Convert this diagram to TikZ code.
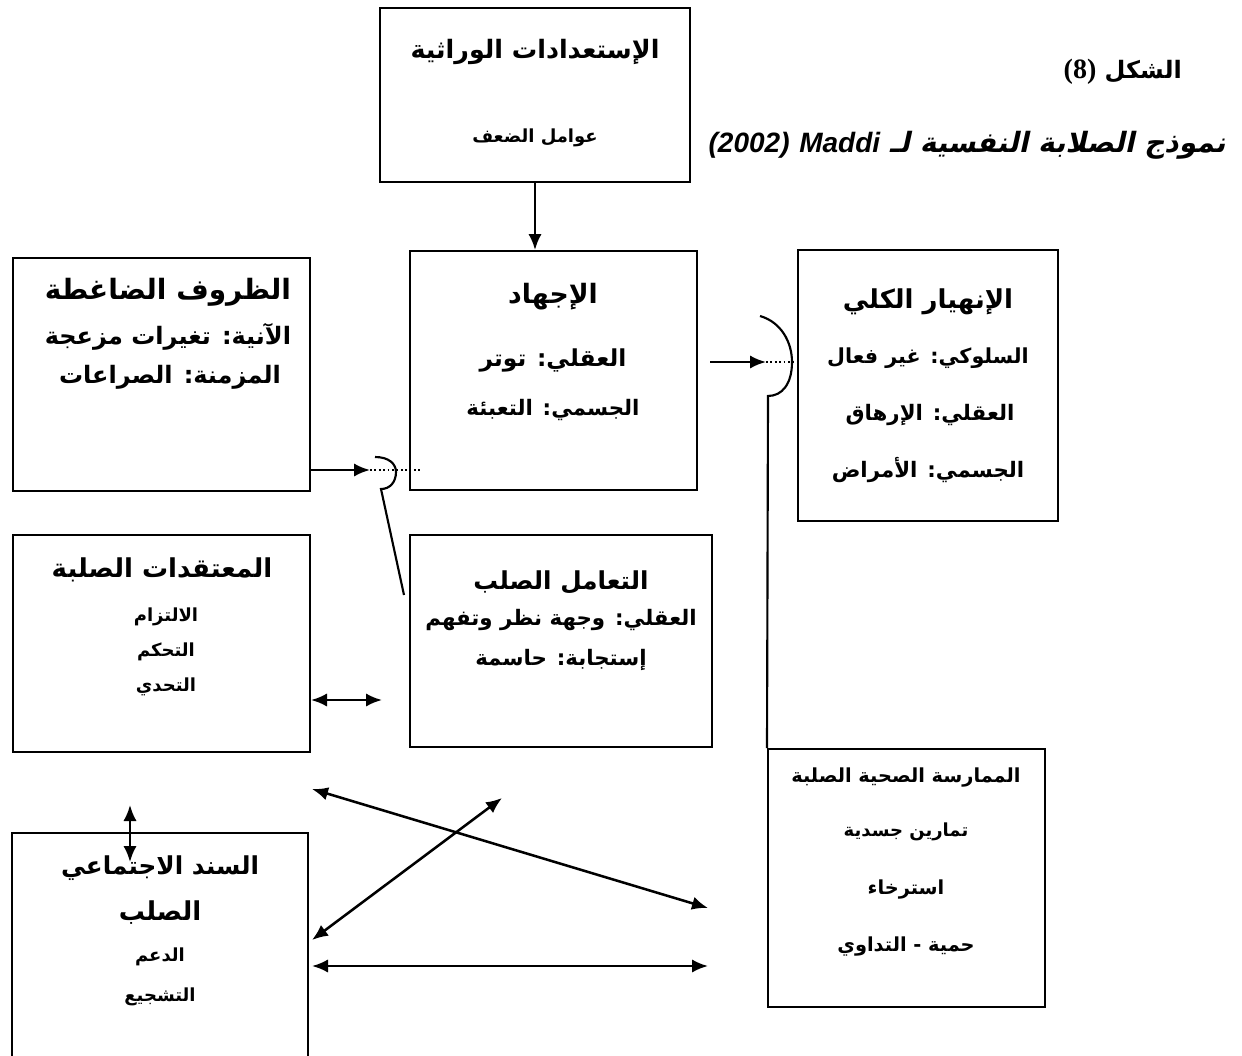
\documentclass[tikz,border=0pt]{standalone}
\usepackage{fontspec}
\usetikzlibrary{arrows.meta,fit}
\TeXXeTstate=1
\newfontfamily\arfont[Script=Arabic]{DejaVu Sans}
\newfontfamily\arslant[Script=Arabic,FakeSlant=0.22]{DejaVu Sans Bold}
\newfontfamily\latsans{Liberation Sans}
\newfontfamily\latserif{Liberation Serif}
% bold Arabic text at a given size
\newcommand\arsz[1]{\arfont\bfseries\fontsize{#1}{#1}\selectfont}

\begin{document}
\begin{tikzpicture}[x=0.75pt,y=-0.75pt,
  box/.style={draw, line width=1.5pt, rectangle, inner sep=0pt},
  lbl/.style={inner sep=0pt},
  big/.style={lbl, font=\arsz{19.5}},
  mid/.style={lbl, font=\arsz{16}},
  small/.style={lbl, font=\arsz{13.5}},
  arr/.style={-{Latex[length=12pt,width=10pt]}, line width=1.9pt},
  darr/.style={{Latex[length=12pt,width=10pt]}-{Latex[length=12pt,width=10pt]}, line width=1.9pt},
  dots/.style={line width=1.9pt, dash pattern=on 1.4pt off 1.9pt},
  link/.style={line width=1.6pt}]

\useasboundingbox (0,0) rectangle (1242,1056);

% ---- boxes ----
\node[box, fit={(380,8) (690,182)}]    (genes)    {};
\node[box, fit={(410,251) (697,490)}]  (strain)   {};
\node[box, fit={(13,258) (310,491)}]   (stressors){};
\node[box, fit={(798,250) (1058,521)}] (collapse) {};
\node[box, fit={(13,535) (310,752)}]   (beliefs)  {};
\node[box, fit={(410,535) (712,747)}]  (coping)   {};
\node[box, fit={(768,749) (1045,1007)}](health)   {};
\node[box, fit={(12,833) (308,1090)}]  (support)  {};

% ---- heading ----
\node[lbl, anchor=east, font=\arsz{18}] (figno) at (1182,72)
  {\beginR الشكل \beginL{\latserif\bfseries\fontsize{21}{21}\selectfont(8)}\endL\endR};
\node[lbl, anchor=east, font=\arslant\fontsize{21}{21}\selectfont] (title) at (1226,145)
  {\beginR نموذج الصلابة النفسية لـ \beginL{\latsans\bfseries\itshape Maddi}\endL{} \beginL{\latsans\bfseries\itshape (2002)}\endL\endR};

% ---- box texts ----
\node[big, font=\arsz{19}]   (g1) at (535,52)  {\beginR الإستعدادات الوراثية\endR};
\node[small]                 (g2) at (535,138) {\beginR عوامل الضعف\endR};

\node[big, font=\arsz{20}]   (s1) at (553,297) {\beginR الإجهاد\endR};
\node[mid, font=\arsz{17.5}] (s2) at (553,360) {\beginR العقلي: توتر\endR};
\node[mid]                   (s3) at (553,410) {\beginR الجسمي: التعبئة\endR};

\node[big, font=\arsz{21}]   (p1) at (168,292) {\beginR الظروف الضاغطة\endR};
\node[mid, font=\arsz{18}]   (p2) at (168,337) {\beginR الآنية: تغيرات مزعجة\endR};
\node[mid, font=\arsz{18}]   (p3) at (170,377) {\beginR المزمنة: الصراعات\endR};

\node[big]                   (c1) at (928,302) {\beginR الإنهيار الكلي\endR};
\node[mid, font=\arsz{15.5}] (c2) at (928,358) {\beginR السلوكي: غير فعال\endR};
\node[mid]                   (c3) at (930,415) {\beginR العقلي: الإرهاق\endR};
\node[mid]                   (c4) at (928,470) {\beginR الجسمي: الأمراض\endR};

\node[big]                   (b1) at (162,570) {\beginR المعتقدات الصلبة\endR};
\node[small]                 (b2) at (166,617) {\beginR الالتزام\endR};
\node[small]                 (b3) at (166,652) {\beginR التحكم\endR};
\node[small]                 (b4) at (166,687) {\beginR التحدي\endR};

\node[big, font=\arsz{18.5}] (k1) at (561,582) {\beginR التعامل الصلب\endR};
\node[mid]                   (k2) at (561,620) {\beginR العقلي: وجهة نظر وتفهم\endR};
\node[mid]                   (k3) at (561,660) {\beginR إستجابة: حاسمة\endR};

\node[mid, font=\arsz{14.5}] (h1) at (906,778) {\beginR الممارسة الصحية الصلبة\endR};
\node[mid, font=\arsz{13.5}] (h2) at (906,832) {\beginR تمارين جسدية\endR};
\node[mid, font=\arsz{14.5}] (h3) at (906,890) {\beginR استرخاء\endR};
\node[mid, font=\arsz{14.5}] (h4) at (906,947) {\beginR حمية - التداوي\endR};

\node[big, font=\arsz{18.5}] (u1) at (160,868) {\beginR السند الاجتماعي\endR};
\node[big]                   (u2) at (160,913) {\beginR الصلب\endR};
\node[small]                 (u3) at (160,957) {\beginR الدعم\endR};
\node[small]                 (u4) at (160,997) {\beginR التشجيع\endR};

% ---- free ends and buffer points ----
\coordinate (tipL)    at (370,470);
\coordinate (dotL)    at (421,470);
\coordinate (arcLa)   at (375,457);
\coordinate (arcLb)   at (381,489);
\coordinate (copeTop) at (404,595);

\coordinate (fromS)   at (710,362);
\coordinate (tipR)    at (766,362);
\coordinate (arcRa)   at (760,316);
\coordinate (arcRb)   at (768,396);

\coordinate (bcR)     at (382,700);
\coordinate (vUp)     at (130,805);
\coordinate (vDn)     at (130,862);
\coordinate (dA1)     at (312,789);
\coordinate (dA2)     at (708,908);
\coordinate (dB1)     at (312,940);
\coordinate (dB2)     at (502,798);
\coordinate (hA1)     at (312,966);
\coordinate (hA2)     at (708,966);

% ---- connectors ----
\draw[arr] (genes.south) -- (genes.south |- strain.north);

\draw[arr] (stressors.east |- tipL) -- (tipL);
\draw[dots] (tipL) -- (dotL);
\draw[link] (arcLa) .. controls (389,457) and (396,464) .. (396,472)
            .. controls (396,482) and (390,489) .. (arcLb) -- (copeTop);

\draw[arr] (fromS) -- (tipR);
\draw[dots] (tipR) -- (collapse.west |- tipR);
\draw[link] (arcRa) .. controls (781,322) and (792,342) .. (792,362)
            .. controls (792,384) and (782,396) .. (arcRb) -- (health.north west);

\draw[darr] (beliefs.east |- bcR) -- (bcR);
\draw[darr] (vUp) -- (vDn);
\draw[darr] (dA1) -- (dA2);
\draw[darr] (dB1) -- (dB2);
\draw[darr] (hA1) -- (hA2);
\end{tikzpicture}
\end{document}
